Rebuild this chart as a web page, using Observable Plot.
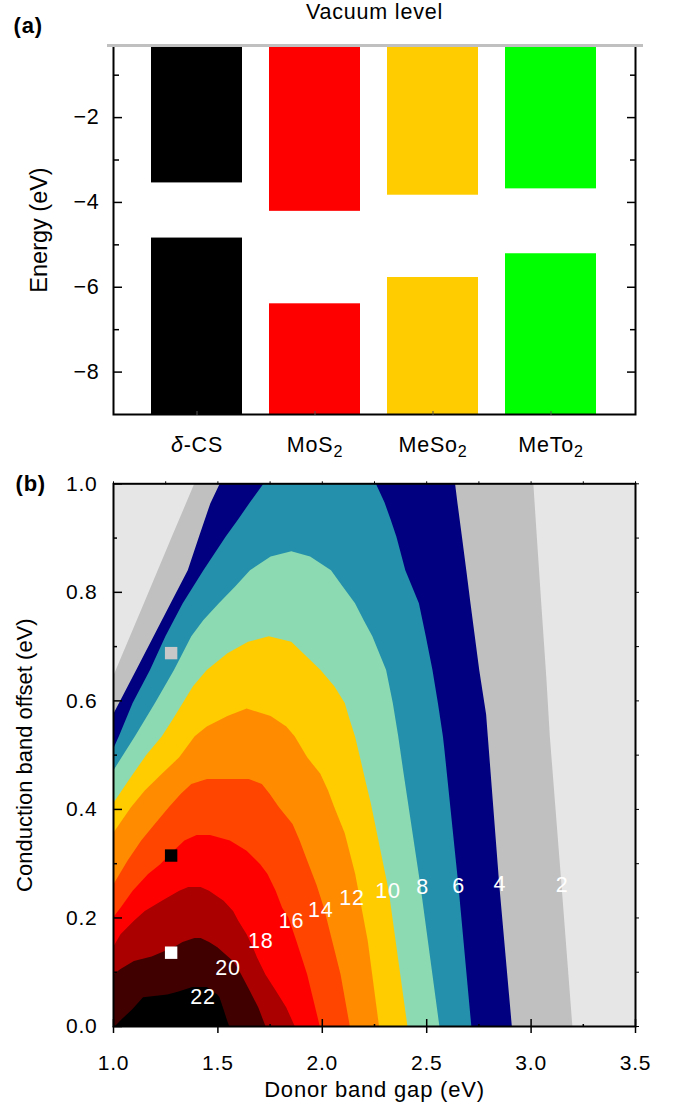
<!DOCTYPE html>
<html>
<head>
<meta charset="utf-8">
<script src="https://cdn.jsdelivr.net/npm/d3@7"></script>
<script src="https://cdn.jsdelivr.net/npm/@observablehq/plot@0.6"></script>
<style>
  body { margin: 0; background: #fff; }
  #chart { width: 678px; }
  #chart svg text { letter-spacing: 0.8px; }
</style>
</head>
<body>
<div id="chart"></div>
<script>
// ---------------- Panel (a): band alignment ----------------
const materials = ["δ-CS", "MoS2", "MeSo2", "MeTo2"];
const cbmEnergy = [-3.54, -4.21, -3.83, -3.68];   // conduction band minimum (eV)
const vbmEnergy = [-4.84, -6.39, -5.77, -5.21];   // valence band maximum (eV)
const materialColors = ["#000000", "#ff0000", "#ffcc00", "#00ff00"];
const energyDomain = [-9, -0.3];                  // vacuum level line drawn at the top
const energyTicks = [-8, -6, -4, -2];
const energyMinorTicks = [-7, -5, -3, -1];

// ---------------- Panel (b): efficiency contour map ----------------
// each level: [conduction band offset, left donor gap, right donor gap] of the region >= level
const contourLevels = [2, 4, 6, 8, 10, 12, 14, 16, 18, 20, 22];
const levelColors = ["#c0c0c0", "#000080", "#2490ab", "#8cdab1", "#ffcc00", "#ff8c00",
                     "#ff4500", "#ff0000", "#aa0000", "#400000", "#000000"];
const contour2 = [[0, 1.0, 3.20], [0.26, 1.0, 3.148], [0.534, 1.0, 3.092], [0.644, 1.0, 3.075],
                  [0.779, 1.148, 3.051], [0.90, 1.28, 3.03], [1.0, 1.39, 3.013]];
const contour4 = [[0, 1.0, 2.91], [0.26, 1.0, 2.85], [0.534, 1.0, 2.795], [0.574, 1.0, 2.787],
                  [0.656, 1.111, 2.754], [0.779, 1.276, 2.712], [0.84, 1.358, 2.692],
                  [0.902, 1.412, 2.671], [0.963, 1.466, 2.65], [1.0, 1.512, 2.638]];
const contour6 = [[0, 1.0, 2.716], [0.26, 1.0, 2.654], [0.51, 1.0, 2.587], [0.534, 1.028, 2.58],
                  [0.595, 1.094, 2.556], [0.656, 1.177, 2.53], [0.718, 1.251, 2.498],
                  [0.779, 1.334, 2.465], [0.84, 1.433, 2.40], [0.902, 1.54, 2.357],
                  [0.933, 1.598, 2.33], [0.965, 1.656, 2.30], [1.0, 1.722, 2.258]];
const contour8 = [[0, 1.0, 2.563], [0.26, 1.0, 2.472], [0.47, 1.0, 2.39], [0.534, 1.105, 2.366],
                  [0.595, 1.201, 2.34], [0.656, 1.292, 2.308], [0.718, 1.375, 2.242],
                  [0.748, 1.433, 2.20], [0.779, 1.507, 2.159], [0.81, 1.585, 2.10],
                  [0.84, 1.656, 2.044], [0.865, 1.755, 1.944], [0.875, 1.854, 1.854]];
const contour10 = [[0, 1.0, 2.41], [0.25, 1.0, 2.32], [0.41, 1.0, 2.235], [0.45, 1.07, 2.21],
                   [0.50, 1.16, 2.18], [0.534, 1.234, 2.159], [0.564, 1.284, 2.134],
                   [0.595, 1.334, 2.11], [0.626, 1.383, 2.06], [0.656, 1.449, 1.994],
                   [0.687, 1.548, 1.911], [0.708, 1.647, 1.854], [0.718, 1.746, 1.746]];
const contour12 = [[0, 1.0, 2.274], [0.157, 1.0, 2.22], [0.28, 1.0, 2.16], [0.355, 1.0, 2.11],
                   [0.403, 1.086, 2.06], [0.434, 1.152, 2.03], [0.465, 1.234, 1.993],
                   [0.495, 1.317, 1.93], [0.534, 1.391, 1.87], [0.552, 1.449, 1.83],
                   [0.571, 1.548, 1.755], [0.585, 1.64, 1.64]];
const contour14 = [[0, 1.0, 2.134], [0.095, 1.0, 2.09], [0.218, 1.0, 2.01], [0.26, 1.0, 1.975],
                   [0.305, 1.07, 1.93], [0.342, 1.135, 1.894], [0.372, 1.20, 1.86],
                   [0.403, 1.267, 1.795], [0.428, 1.325, 1.75], [0.446, 1.375, 1.713],
                   [0.455, 1.45, 1.65]];
const contour16 = [[0, 1.0, 1.99], [0.095, 1.0, 1.93], [0.157, 1.0, 1.878], [0.20, 1.0, 1.84],
                   [0.218, 1.036, 1.81], [0.249, 1.094, 1.779], [0.28, 1.168, 1.74],
                   [0.298, 1.226, 1.705], [0.323, 1.29, 1.64], [0.342, 1.342, 1.56],
                   [0.352, 1.40, 1.465]];
const contour18 = [[0, 1.0, 1.87], [0.034, 1.0, 1.83], [0.065, 1.0, 1.78], [0.095, 1.0, 1.73],
                   [0.126, 1.0, 1.69], [0.145, 1.0, 1.67], [0.169, 1.036, 1.64],
                   [0.194, 1.10, 1.60], [0.212, 1.152, 1.575], [0.231, 1.234, 1.53],
                   [0.249, 1.317, 1.46], [0.256, 1.36, 1.42]];
const contour20 = [[0, 1.0, 1.73], [0.034, 1.0, 1.696], [0.065, 1.0, 1.655], [0.095, 1.0, 1.614],
                   [0.105, 1.036, 1.60], [0.12, 1.10, 1.575], [0.128, 1.185, 1.55],
                   [0.145, 1.29, 1.50], [0.155, 1.333, 1.46], [0.162, 1.39, 1.42]];
const contour22 = [[0, 1.01, 1.556], [0.012, 1.04, 1.545], [0.03, 1.09, 1.53], [0.053, 1.144, 1.51],
                   [0.058, 1.26, 1.50], [0.063, 1.31, 1.48], [0.072, 1.38, 1.45]];
const contourBounds = [contour2, contour4, contour6, contour8, contour10, contour12,
                       contour14, contour16, contour18, contour20, contour22];

const labelText = ["2", "4", "6", "8", "10", "12", "14", "16", "18", "20", "22"];
const labelGap = [3.148, 2.85, 2.653, 2.48, 2.315, 2.142, 1.993, 1.853, 1.705, 1.548, 1.429];
const labelOffset = [0.26, 0.262, 0.258, 0.257, 0.25, 0.237, 0.215, 0.194, 0.157, 0.108, 0.055];

const markerGap = [1.276, 1.276, 1.276];
const markerOffset = [0.688, 0.315, 0.136];
const markerColors = ["#c8c8c8", "#000000", "#ffffff"];

const gapTicks = [1, 1.5, 2, 2.5, 3, 3.5];
const gapMinorTicks = [1.25, 1.75, 2.25, 2.75, 3.25];
const offsetTicks = [0, 0.2, 0.4, 0.6, 0.8, 1.0];
const offsetMinorTicks = [0.1, 0.3, 0.5, 0.7, 0.9];

const FONT = "'Liberation Sans', Arial, Helvetica, sans-serif";

// ---------- build panel (a) ----------
const bandData = materials.map((m, i) => ({name: m, cbm: cbmEnergy[i], vbm: vbmEnergy[i], color: materialColors[i]}));

const plotA = Plot.plot({
  width: 678, height: 460,
  marginLeft: 113, marginRight: 43, marginTop: 45, marginBottom: 46,
  style: {fontFamily: FONT, fontSize: "21px", background: "white", color: "black", overflow: "visible"},
  x: {type: "band", domain: materials, paddingInner: 0.227, paddingOuter: 0.31, align: 0.5, label: null},
  y: {domain: energyDomain, label: null},
  color: {type: "identity"},
  marks: [
    Plot.barY(bandData, {x: "name", y1: () => energyDomain[1], y2: "cbm", fill: "color"}),
    Plot.barY(bandData, {x: "name", y1: "vbm", y2: () => energyDomain[0], fill: "color"}),
    Plot.frame({stroke: "black", strokeWidth: 2}),
    // left axis
    Plot.axisY(energyTicks, {anchor: "left", tickSize: 0, tickPadding: 14, label: null, fontSize: 21.5}),
    Plot.axisY(energyTicks, {anchor: "right", frameAnchor: "left", tickSize: 8, fill: "none", strokeWidth: 1.5, label: null}),
    Plot.axisY(energyMinorTicks, {anchor: "right", frameAnchor: "left", tickSize: 5, fill: "none", strokeWidth: 1.5, label: null}),
    // right axis (inward ticks)
    Plot.axisY(energyTicks, {anchor: "left", frameAnchor: "right", tickSize: 8, fill: "none", strokeWidth: 1.5, label: null}),
    Plot.axisY(energyMinorTicks, {anchor: "left", frameAnchor: "right", tickSize: 5, fill: "none", strokeWidth: 1.5, label: null}),
    // bottom axis
    Plot.axisX(materials, {anchor: "top", frameAnchor: "bottom", tickSize: 4, fill: "none", stroke: "#555", label: null}),
    Plot.axisX(materials, {anchor: "bottom", tickSize: 0, tickPadding: 22, label: null, fontSize: 21.5}),
    // vacuum level line
    Plot.ruleY([energyDomain[1]], {stroke: "#c0c0c0", strokeWidth: 3, insetLeft: -6, insetRight: -8}),
    Plot.text(["Vacuum level"], {frameAnchor: "top", dy: -33, lineAnchor: "middle", textAnchor: "middle", fontSize: 21.5}),
    Plot.text(["Energy (eV)"], {frameAnchor: "left", dx: -74, rotate: -90, lineAnchor: "middle", textAnchor: "middle", fontSize: 23.5}),
    Plot.text(["(a)"], {frameAnchor: "top-left", dx: -100, dy: -20, lineAnchor: "middle", textAnchor: "start", fontWeight: "bold", fontSize: 22})
  ]
});

// subscripts / italic delta in category labels
d3.select(plotA).selectAll('g[aria-label="x-axis tick label"] text').each(function () {
  const s = this.textContent;
  const sel = d3.select(this).text(null);
  const m = s.match(/^(.*?)(\d+)$/);
  if (s.startsWith("δ")) {
    sel.append("tspan").attr("font-style", "italic").text("δ");
    sel.append("tspan").text(s.slice(1));
  } else if (m) {
    sel.append("tspan").text(m[1]);
    sel.append("tspan").attr("dy", "0.3em").attr("font-size", "0.75em").text(m[2]);
  } else {
    sel.text(s);
  }
});

// ---------- build panel (b) ----------
const labelData = labelText.map((t, i) => ({t, x: labelGap[i], y: labelOffset[i]}));
const markerData = markerGap.map((x, i) => ({x, y: markerOffset[i], c: markerColors[i]}));

const plotB = Plot.plot({
  width: 678, height: 657,
  marginLeft: 113, marginRight: 43, marginTop: 23.3, marginBottom: 91,
  style: {fontFamily: FONT, fontSize: "20px", background: "white", color: "black", overflow: "visible"},
  x: {domain: [1, 3.5], label: null},
  y: {domain: [0, 1], label: null},
  color: {type: "identity"},
  marks: [
    Plot.frame({fill: "#e6e6e6"}),
    ...contourBounds.map((b, i) => Plot.areaX(b, {y: d => d[0], x1: d => d[1], x2: d => d[2], fill: levelColors[i]})),
    Plot.dot(markerData, {x: "x", y: "y", fill: "c", symbol: "square", r: 7}),
    Plot.text(labelData, {x: "x", y: "y", text: "t", fill: "white", fontSize: 21.5}),
    Plot.frame({stroke: "black", strokeWidth: 2}),
    // bottom axis
    Plot.axisX(gapTicks, {anchor: "bottom", tickSize: 7, fill: "none", strokeWidth: 1.5, label: null}),
    Plot.axisX(gapTicks, {anchor: "top", frameAnchor: "bottom", tickSize: 8, fill: "none", strokeWidth: 1.5, label: null}),
    Plot.axisX(gapMinorTicks, {anchor: "top", frameAnchor: "bottom", tickSize: 3, fill: "none", strokeWidth: 1.5, label: null}),
    Plot.axisX(gapTicks, {anchor: "bottom", tickSize: 0, tickPadding: 29, tickFormat: ".1f", label: null, fontSize: 21}),
    // top axis
    Plot.axisX([...gapTicks, ...gapMinorTicks], {anchor: "top", tickSize: 3, fill: "none", label: null}),
    // left axis
    Plot.axisY(offsetTicks, {anchor: "left", tickSize: 0, tickPadding: 16, tickFormat: ".1f", label: null, fontSize: 21}),
    Plot.axisY(offsetTicks, {anchor: "right", frameAnchor: "left", tickSize: 8, fill: "none", strokeWidth: 1.5, label: null}),
    Plot.axisY(offsetMinorTicks, {anchor: "right", frameAnchor: "left", tickSize: 3, fill: "none", strokeWidth: 1.5, label: null}),
    // right axis
    Plot.axisY([...offsetTicks, ...offsetMinorTicks], {anchor: "right", tickSize: 3, fill: "none", label: null}),
    Plot.text(["Donor band gap (eV)"], {frameAnchor: "bottom", dy: 63, lineAnchor: "middle", textAnchor: "middle", fontSize: 22}),
    Plot.text(["Conduction band offset (eV)"], {frameAnchor: "left", dx: -89, rotate: -90, lineAnchor: "middle", textAnchor: "middle", fontSize: 22}),
    Plot.text(["(b)"], {frameAnchor: "top-left", dx: -98, dy: 0, lineAnchor: "middle", textAnchor: "start", fontWeight: "bold", fontSize: 22})
  ]
});

const chart = document.getElementById("chart");
chart.append(plotA, plotB);

// rotated titles: no extra letter spacing
d3.selectAll("#chart svg text").each(function () {
  const t = (this.getAttribute("transform") || "") + ((this.parentNode && this.parentNode.getAttribute && this.parentNode.getAttribute("transform")) || "");
  if (/rotate/.test(t)) this.style.letterSpacing = "0px";
});
</script>
</body>
</html>
